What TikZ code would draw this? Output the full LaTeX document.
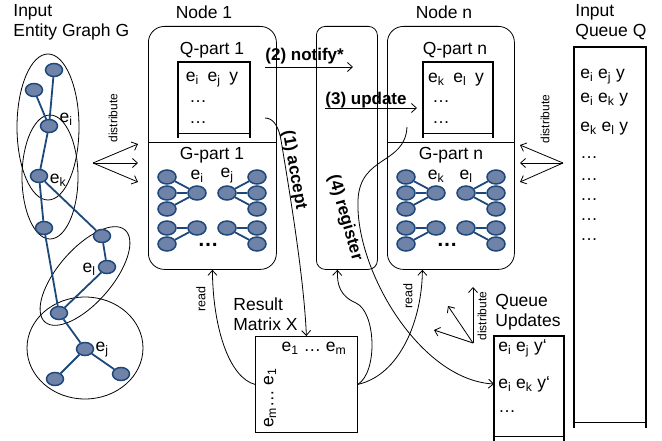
\documentclass[tikz,border=0pt]{standalone}
\usepackage{fontspec}
\setmainfont{Liberation Sans}
\usetikzlibrary{shapes.geometric,arrows.meta}
\definecolor{entfill}{RGB}{111,130,167}
\definecolor{entline}{RGB}{30,72,122}
\tikzstyle{ent} = [ellipse, draw=entline, fill=entfill, line width=1.5pt, inner sep=0pt, minimum width=17pt, minimum height=13pt]
\tikzstyle{gent} = [ent, minimum width=18pt, minimum height=14pt]
\tikzstyle{link} = [draw=entline, line width=1.8pt]
\tikzstyle{partbox} = [draw, rounded corners=16pt, anchor=north west, line width=.8pt, inner sep=0pt]
\tikzstyle{lbl} = [font=\fontsize{17.5}{20}\selectfont, align=left, inner sep=0pt]
\tikzstyle{small} = [font=\fontsize{12}{14}\selectfont, inner sep=0pt]
\tikzstyle{msg} = [font=\fontsize{17}{20}\selectfont\bfseries, inner sep=0pt]
\newcommand{\ee}[1]{e\textsubscript{#1}}
% one G-part: shift, name prefix, labels of the two hubs
\newcommand{\gpart}[4]{%
  \begin{scope}[xshift=#1pt]
    \foreach \y [count=\i] in {177,193,209} {
      \node[gent] (#2l\i) at (167,\y) {};
      \node[gent] (#2r\i) at (257,\y) {};
    }
    \node[gent] (#2a) at (197,193) {};
    \node[gent] (#2b) at (227,193) {};
    \node[gent] (#2c) at (167,228) {};
    \node[gent] (#2d) at (167,244) {};
    \node[gent] (#2e) at (197,228) {};
    \node[gent] (#2f) at (227,228) {};
    \node[gent] (#2g) at (257,228) {};
    \node[gent] (#2h) at (257,244) {};
    \foreach \i in {1,2,3} {
      \draw[link] (#2l\i) -- (#2a);
      \draw[link] (#2b) -- (#2r\i);
    }
    \draw[link] (#2c) -- (#2e) (#2d) -- (#2e) (#2f) -- (#2g) (#2f) -- (#2h);
    \node[lbl] (#2ta) at (197,176) {\ee{#3}};
    \node[lbl] (#2tb) at (227,176) {\ee{#4}};
    \node[msg, font=\fontsize{21}{21}\selectfont\bfseries] (#2dots) at (208,245) {…};
  \end{scope}}

\begin{document}
\begin{tikzpicture}[x=1pt, y=-1pt, line width=.8pt, >={Straight Barb[length=5pt,width=9pt]}]
\useasboundingbox (0,0) rectangle (662,441);

% input entity graph
\node[lbl, anchor=north west] (ttlg) at (13,4) {Input\\Entity Graph G};
\draw (48,127) ellipse [x radius=31, y radius=73];
\draw (50,177) ellipse [x radius=28, y radius=62];
\draw[rotate around={49:(85,276)}] (85,276) ellipse [x radius=61, y radius=27];
\draw (85,348) ellipse [x radius=58, y radius=51];
\node[ent] (ga) at (54,70) {};
\node[ent] (gb) at (34,90) {};
\node[ent] (gi) at (49,126) {};
\node[ent] (gk) at (39,176) {};
\node[ent] (gc) at (44,228) {};
\node[ent] (gd) at (102,236) {};
\node[ent] (gl) at (107,267) {};
\node[ent] (gf) at (59,313) {};
\node[ent] (gj) at (85,349) {};
\node[ent] (gg) at (55,379) {};
\node[ent] (gh) at (121,374) {};
\draw[link] (ga) -- (gi) (gb) -- (gi) (gi) -- (gk) (gk) -- (gc) (gk) -- (gd)
  (gd) -- (gl) (gl) -- (gf) (gc) -- (gf) (gf) -- (gj) (gj) -- (gg) (gj) -- (gh);
\node[lbl] (lgi) at (66,119) {\ee{i}};
\node[lbl] (lgk) at (58,180) {\ee{k}};
\node[lbl] (lgl) at (89,269) {\ee{l}};
\node[lbl] (lgj) at (102,350) {\ee{j}};

% distribute to the nodes
\coordinate (dl) at (93,163);
\coordinate (dl1) at (138,144);
\coordinate (dl2) at (138,163);
\coordinate (dl3) at (138,182);
\draw[->] (dl) -- (dl1); \draw[->] (dl) -- (dl2); \draw[->] (dl) -- (dl3);
\node[small, rotate=90] (tdl) at (113,118) {distribute};

% node 1
\node[partbox, minimum width=128pt, minimum height=243pt] (node1) at (148,26) {};
\node[lbl] (tnode1) at (204,12) {Node 1};
\draw (node1.west |- 0,142) -- (node1.east |- 0,142);
\node[lbl] (tq1) at (212,50) {Q-part 1};
\draw[line width=1.4pt] (178,138) -- (178,62) -- (250,62) -- (250,138);
\draw (178,133) -- (250,133);
\node[lbl] (q1r1) at (212,80) {\ee{i}\enspace\ee{j}\enspace y};
\node[lbl] (q1r2) at (198,102) {…};
\node[lbl] (q1r3) at (198,123) {…};
\node[lbl] (tg1) at (212,155) {G-part 1};
\gpart{0}{a}{i}{j}

% middle box
\node[partbox, rounded corners=9pt, minimum width=61pt, minimum height=243pt] (reg) at (316,26) {};

% node n
\node[partbox, minimum width=127pt, minimum height=243pt] (noden) at (387,26) {};
\node[lbl] (tnoden) at (444,12) {Node n};
\draw (noden.west |- 0,142) -- (noden.east |- 0,142);
\node[lbl] (tqn) at (455,50) {Q-part n};
\draw[line width=1.4pt] (423,138) -- (423,62) -- (493,62) -- (493,138);
\draw (423,133) -- (493,133);
\node[lbl] (qnr1) at (456,80) {\ee{k}\enspace\ee{l}\enspace y};
\node[lbl] (qnr2) at (441,102) {…};
\node[lbl] (qnr3) at (441,123) {…};
\node[lbl] (tgn) at (451,155) {G-part n};
\gpart{239}{b}{k}{l}

% input queue
\node[lbl, anchor=north west] (ttlq) at (575,4) {Input\\Queue Q};
\draw[line width=1.2pt] (574,428) -- (574,47) -- (646,47) -- (646,428);
\draw (574,422) -- (646,422);
\node[lbl, anchor=west] (iq1) at (580,77) {\ee{i} \ee{j} y};
\node[lbl, anchor=west] (iq2) at (580,100) {\ee{i} \ee{k} y};
\node[lbl, anchor=west] (iq3) at (580,129) {\ee{k} \ee{l} y};
\foreach \y [count=\i] in {158,180,200,220,240}
  \node[lbl, anchor=west] (iqd\i) at (580,\y) {…};

% distribute from the queue
\coordinate (dr) at (563,163);
\coordinate (dr1) at (520,145);
\coordinate (dr2) at (520,163);
\coordinate (dr3) at (520,182);
\draw[->] (dr) -- (dr1); \draw[->] (dr) -- (dr2); \draw[->] (dr) -- (dr3);
\node[small, rotate=90] (tdr) at (545,119) {distribute};

% result matrix
\node[lbl, anchor=north west] (ttlx) at (233,297) {Result\\Matrix X};
\node[draw, anchor=north west, minimum width=102pt, minimum height=96pt, inner sep=0pt] (resx) at (255,336) {};
\node[lbl] (xcol) at (314,348) {\ee{1} … \ee{m}};
\node[lbl, rotate=90] (xrow) at (270,398) {\ee{m}… \ee{1}};

% queue updates
\node[lbl, anchor=north west] (ttlu) at (495,294) {Queue\\Updates};
\draw[line width=1.2pt] (494,441) -- (494,336) -- (564,336) -- (564,441);
\draw (494,436) -- (564,436);
\node[lbl, anchor=west] (up1) at (498,348) {\ee{i} \ee{j} y‘};
\node[lbl, anchor=west] (up2) at (498,384) {\ee{i} \ee{k} y‘};
\node[lbl, anchor=west] (up3) at (498,412) {…};
\coordinate (updin) at (494,384);

% distribute updates
\coordinate (du) at (473,343);
\coordinate (du1) at (473,287);
\coordinate (du2) at (448,306);
\coordinate (du3) at (434,330);
\draw[->] (du) -- (du1); \draw[->] (du) -- (du2); \draw[->] (du) -- (du3);
\node[small, rotate=90] (tdu) at (482,316) {distribute};

% messages
\coordinate (ntfa) at (265,67);
\coordinate (ntfb) at (353,67);
\draw[->] (ntfa) -- (ntfb);
\node[msg, anchor=south west] (tntf) at (265,64) {(2) notify*};
\coordinate (upda) at (325,108);
\coordinate (updb) at (417,108);
\draw[->] (upda) -- (updb);
\node[msg, anchor=south west] (tupd) at (325,108.5) {(3) update};
\coordinate (acc) at (265,118);
\draw[->] (acc) .. controls (274,118) and (279,128) .. (281,140)
  .. controls (291,200) and (304,280) .. (resx.north);
\node[msg, rotate=-80] (tacc) at (294,170) {(1) accept};
\coordinate (regs) at (407,127);
\draw[->] (regs) .. controls (405,165) and (360,155) .. (358,200)
  .. controls (355,270) and (420,380) .. (updin);
\node[msg, rotate=-74] (treg) at (345,218) {(4) register};

% reads
\draw[->] (resx.west) .. controls (230,378) and (213,330) .. (node1.south);
\node[small, font=\fontsize{12.5}{14}\selectfont, rotate=90] (tread1) at (201,299) {read};
\draw[->] (resx.east) .. controls (378,372) and (376,312) .. (356,303)
  .. controls (340,296) and (337,285) .. ([xshift=-9.5pt]reg.south);
\draw[->] (resx.east) .. controls (400,375) and (422,320) .. ([xshift=-28.5pt]noden.south);
\node[small, font=\fontsize{12.5}{14}\selectfont, rotate=90] (tread2) at (408,296) {read};
\end{tikzpicture}
\end{document}
